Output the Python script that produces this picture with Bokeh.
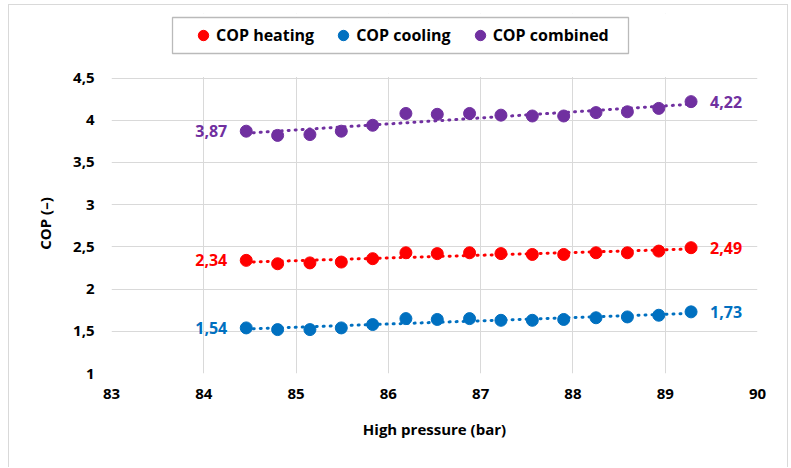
import numpy as np
from bokeh.plotting import figure
from bokeh.models import ColumnDataSource, Legend, LegendItem, FixedTicker, Range1d, BoxAnnotation
from bokeh.core.properties import value
from bokeh.embed import file_html
from bokeh.resources import INLINE

# ---- data ----
pressure = [84.46, 84.80, 85.15, 85.49, 85.83, 86.19, 86.53, 86.88,
            87.22, 87.56, 87.90, 88.25, 88.59, 88.93, 89.28]
cop_heating = [2.34, 2.30, 2.31, 2.32, 2.36, 2.43, 2.42, 2.43,
               2.42, 2.41, 2.41, 2.43, 2.43, 2.45, 2.49]
cop_cooling = [1.54, 1.52, 1.52, 1.54, 1.58, 1.65, 1.64, 1.65,
               1.63, 1.63, 1.64, 1.66, 1.67, 1.69, 1.73]
cop_combined = [3.87, 3.82, 3.83, 3.87, 3.94, 4.08, 4.07, 4.08,
                4.06, 4.05, 4.05, 4.09, 4.10, 4.14, 4.22]
series_names = ["COP heating", "COP cooling", "COP combined"]
series_colors = ["#FF0000", "#0070C0", "#7030A0"]
x_ticks = [83, 84, 85, 86, 87, 88, 89, 90]
y_ticks = [1, 1.5, 2, 2.5, 3, 3.5, 4, 4.5]
y_tick_labels = ["1", "1,5", "2", "2,5", "3", "3,5", "4", "4,5"]

FONT = "Open Sans"
X_MIN, X_MAX = 83, 90
Y_MIN, Y_MAX = 1, 4.5

# layout geometry (pixels)
W, H = 780, 463
MB_LEFT, MB_RIGHT, MB_TOP, MB_BOTTOM = 102, 32, 8, 95
frame_w = W - MB_LEFT - MB_RIGHT
frame_h = H - MB_TOP - MB_BOTTOM
plot_area_h = 295.5           # pixel height of the 1..4.5 plot area
y_top = Y_MIN + (Y_MAX - Y_MIN) * frame_h / plot_area_h   # extra room above for legend
px_per_x = frame_w / (X_MAX - X_MIN)
px_per_y = plot_area_h / (Y_MAX - Y_MIN)

p = figure(width=W, height=H, output_backend="svg", toolbar_location=None,
           x_range=Range1d(X_MIN, X_MAX), y_range=Range1d(Y_MIN, y_top),
           min_border_left=MB_LEFT, min_border_right=MB_RIGHT, min_border_top=MB_TOP,
           min_border_bottom=MB_BOTTOM)
p.styles = {"margin-left": "8px", "margin-top": "4px",
            "border-left": "1px solid #D9D9D9", "border-top": "1px solid #D9D9D9",
            "border-right": "1px solid #D9D9D9"}
p.outline_line_color = None
p.background_fill_color = "white"
p.border_fill_color = "white"

p.xaxis.ticker = FixedTicker(ticks=x_ticks)
p.yaxis.ticker = FixedTicker(ticks=y_ticks)
p.yaxis.major_label_overrides = {t: l for t, l in zip(y_ticks, y_tick_labels)}
for ax in (p.xaxis, p.yaxis):
    ax.axis_line_color = None
    ax.major_tick_line_color = None
    ax.minor_tick_line_color = None
    ax.major_label_text_font = FONT
    ax.major_label_text_font_style = "bold"
    ax.major_label_text_font_size = "15px"
    ax.major_label_text_color = "#000000"
    ax.axis_label_text_font = FONT
    ax.axis_label_text_font_style = "bold"
    ax.axis_label_text_font_size = "15px"
    ax.axis_label_text_color = "#000000"
p.xaxis.axis_label = "High pressure (bar)"
# trailing em spaces keep the title centred on the 1..4.5 plot area rather than the full frame
p.yaxis.axis_label = "COP (–)\u2003\u2003\u2003\u2003"
p.xaxis.major_label_standoff = 9
p.yaxis.major_label_standoff = 11
p.xaxis.axis_label_standoff = 17
p.yaxis.axis_label_standoff = 15
p.grid.grid_line_color = "#D9D9D9"
p.grid.grid_line_width = 1

# hide the grid above the plot area (the legend lives there)
p.add_layout(BoxAnnotation(bottom=Y_MAX + 0.012, fill_color="white", fill_alpha=1,
                           line_color=None, level="underlay"))

items = []
for name, vals, col in zip(series_names, [cop_heating, cop_cooling, cop_combined], series_colors):
    x = np.array(pressure)
    y = np.array(vals)
    k, b = np.polyfit(x, y, 1)
    xt = [x[0], x[-1]]
    yt = [k * x[0] + b, k * x[-1] + b]
    p.line(xt, yt, line_color=col, line_width=3, line_dash="1 6", line_cap="round")
    r = p.scatter(x, y, size=12, fill_color=col, line_color=col)
    items.append(LegendItem(label=name, renderers=[r]))
    labels = [f"{vals[0]:.2f}".replace(".", ","), f"{vals[-1]:.2f}".replace(".", ",")]
    src_l = ColumnDataSource(dict(x=[x[0]], y=[y[0]], t=[labels[0]]))
    src_r = ColumnDataSource(dict(x=[x[-1]], y=[y[-1]], t=[labels[1]]))
    p.text("x", "y", text="t", source=src_l, text_align="right", text_baseline="middle",
           x_offset=-19, text_color=col, text_font=value(FONT), text_font_style="bold",
           text_font_size="16px")
    p.text("x", "y", text="t", source=src_r, text_align="left", text_baseline="middle",
           x_offset=19, text_color=col, text_font=value(FONT), text_font_style="bold",
           text_font_size="16px")

# legend frame (box), placed in pixel offsets from the frame's bottom-left corner
LEG_LEFT, LEG_RIGHT = 61, 517      # px from frame left
LEG_BOTTOM, LEG_TOP = 320, 356     # px above frame bottom
p.add_layout(BoxAnnotation(left=X_MIN + LEG_LEFT / px_per_x, right=X_MIN + LEG_RIGHT / px_per_x,
                           bottom=Y_MIN + LEG_BOTTOM / px_per_y, top=Y_MIN + LEG_TOP / px_per_y,
                           fill_color="white", fill_alpha=1,
                           line_color="#1a1a1a", line_width=1.3))

legend = Legend(items=items, orientation="horizontal", location=(79, 323),
                label_text_font=FONT, label_text_font_style="bold",
                label_text_font_size="16px", label_text_color="#000000",
                border_line_color=None, background_fill_alpha=0,
                padding=0, margin=0, spacing=16, glyph_width=26, glyph_height=30,
                label_standoff=0)
p.add_layout(legend, "center")

open("out.html", "w").write(file_html(p, INLINE))
